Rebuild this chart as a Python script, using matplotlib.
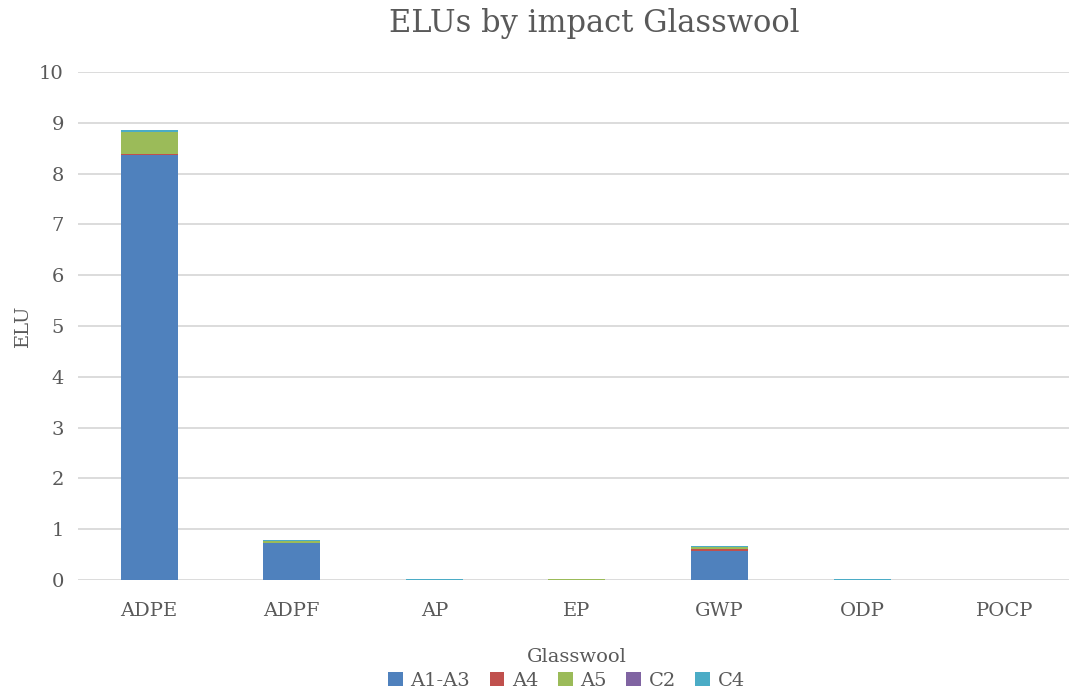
import matplotlib
matplotlib.use("Agg")
import matplotlib.pyplot as plt
import numpy as np

categories = ["ADPE", "ADPF", "AP", "EP", "GWP", "ODP", "POCP"]
a1_a3 = [8.37, 0.72, 0.0, 0.0, 0.57, 0.0, 0.0]
a4 = [0.01, 0.01, 0.0, 0.0, 0.03, 0.0, 0.0]
a5 = [0.43, 0.03, 0.0, 0.02, 0.05, 0.0, 0.0]
c2 = [0.005, 0.005, 0.0, 0.0, 0.005, 0.0, 0.0]
c4 = [0.04, 0.02, 0.02, 0.0, 0.01, 0.02, 0.0]
series_names = ["A1-A3", "A4", "A5", "C2", "C4"]
colors = ["#4F81BD", "#C0504D", "#9BBB59", "#8064A2", "#4BACC6"]
yticks = list(range(0, 11))

plt.rcParams['font.family'] = ['DejaVu Serif']
txt = "#595959"

fig = plt.figure(figsize=(10.69, 6.92), dpi=100)
ax = fig.add_axes([0.0727, 0.162, 0.934, 0.734])

x = np.arange(len(categories))
bottom = np.zeros(len(categories))
series = [a1_a3, a4, a5, c2, c4]
for name, vals, col in zip(series_names, series, colors):
    v = np.array(vals)
    ax.bar(x, v, width=0.4, bottom=bottom, color=col, label=name, zorder=3)
    bottom += v

ax.set_xlim(-0.5, len(categories) - 0.5)
ax.set_ylim(0, 10)
ax.set_yticks(yticks)
ax.set_yticklabels([str(t) for t in yticks], fontsize=14, color=txt)
ax.set_xticks(x)
ax.set_xticklabels(categories, fontsize=14, color=txt)
ax.tick_params(axis='y', length=0, pad=10)
ax.tick_params(axis='x', length=0, pad=16)
ax.grid(axis='y', color="#D9D9D9", linewidth=1.3, zorder=0)
for s in ax.spines.values():
    s.set_visible(False)
ax.set_ylabel("ELU", fontsize=14, color=txt, labelpad=5)
ax.set_xlabel("Glasswool", fontsize=14, color=txt, labelpad=20)
fig.suptitle("ELUs by impact Glasswool", fontsize=22, color=txt, y=0.988, x=0.556)

fig.legend(loc='lower center', bbox_to_anchor=(0.53, -0.022), ncol=5, frameon=False,
           fontsize=14, labelcolor=txt, handlelength=0.75, handleheight=0.75,
           handletextpad=0.4, columnspacing=1.0)

fig.savefig("out.png", dpi=100)
